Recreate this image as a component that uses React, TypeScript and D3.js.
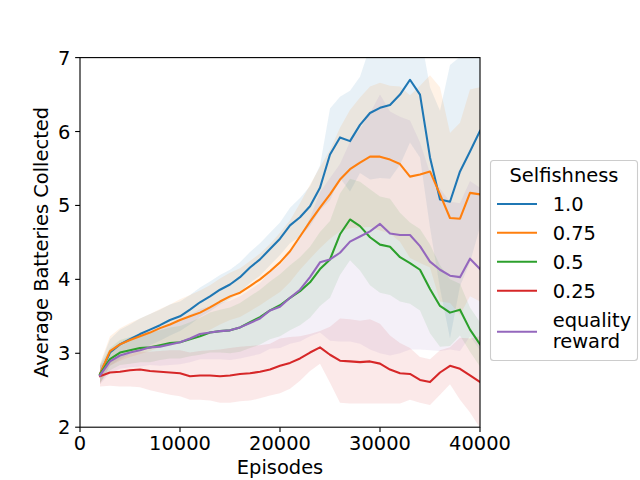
import * as d3 from 'd3'

// episodes sampled every 1000 from 2000 to 40000
const episodes = [
  2000, 3000, 4000, 5000, 6000, 7000, 8000, 9000, 10000, 11000,
  12000, 13000, 14000, 15000, 16000, 17000, 18000, 19000, 20000, 21000,
  22000, 23000, 24000, 25000, 26000, 27000, 28000, 29000, 30000, 31000,
  32000, 33000, 34000, 35000, 36000, 37000, 38000, 39000, 40000,
]

const mean10 = [
  2.72, 3.01, 3.12, 3.19, 3.26, 3.32, 3.38, 3.45, 3.50, 3.59,
  3.69, 3.77, 3.86, 3.93, 4.03, 4.16, 4.27, 4.41, 4.55, 4.73,
  4.84, 4.99, 5.24, 5.69, 5.92, 5.87, 6.09, 6.25, 6.32, 6.36,
  6.50, 6.70, 6.50, 5.65, 5.08, 5.05, 5.46, 5.73, 6.01,
]
const std10 = [
  0.12, 0.18, 0.2, 0.2, 0.21, 0.21, 0.21, 0.21, 0.2, 0.2,
  0.2, 0.2, 0.2, 0.2, 0.2, 0.21, 0.22, 0.22, 0.22, 0.24,
  0.26, 0.27, 0.3, 0.62, 0.55, 0.68, 0.65, 0.9, 0.95, 1.0,
  0.95, 0.85, 0.85, 0.95, 1.2, 1.85, 1.55, 1.5, 1.3,
]

const mean075 = [
  2.72, 3.03, 3.12, 3.18, 3.23, 3.28, 3.34, 3.39, 3.45, 3.50,
  3.55, 3.62, 3.70, 3.77, 3.82, 3.91, 4.00, 4.11, 4.23, 4.38,
  4.58, 4.78, 4.97, 5.15, 5.35, 5.49, 5.58, 5.66, 5.66, 5.62,
  5.56, 5.39, 5.42, 5.46, 5.15, 4.83, 4.82, 5.17, 5.15,
]
const std075 = [
  0.14, 0.2, 0.22, 0.23, 0.24, 0.25, 0.26, 0.27, 0.28, 0.29,
  0.3, 0.3, 0.31, 0.32, 0.33, 0.34, 0.35, 0.37, 0.4, 0.42,
  0.45, 0.5, 0.55, 0.6, 0.7, 0.8, 0.88, 0.95, 1.0, 1.0,
  1.05, 1.1, 1.2, 1.3, 1.45, 1.15, 1.3, 1.4, 1.45,
]

const mean05 = [
  2.72, 2.92, 3.01, 3.04, 3.07, 3.08, 3.11, 3.14, 3.15, 3.19,
  3.23, 3.28, 3.30, 3.31, 3.35, 3.42, 3.49, 3.58, 3.65, 3.75,
  3.84, 3.96, 4.14, 4.27, 4.61, 4.81, 4.72, 4.57, 4.47, 4.44,
  4.30, 4.22, 4.13, 3.87, 3.64, 3.55, 3.59, 3.32, 3.12,
]
const std05 = [
  0.12, 0.15, 0.17, 0.18, 0.19, 0.2, 0.2, 0.21, 0.22, 0.23,
  0.25, 0.27, 0.29, 0.31, 0.33, 0.35, 0.37, 0.39, 0.42, 0.44,
  0.46, 0.48, 0.5, 0.52, 0.55, 0.55, 0.6, 0.65, 0.65, 0.65,
  0.6, 0.55, 0.55, 0.6, 0.55, 0.45, 0.35, 0.3, 0.3,
]

const mean025 = [
  2.69, 2.74, 2.75, 2.77, 2.78, 2.76, 2.75, 2.74, 2.73, 2.69,
  2.70, 2.70, 2.69, 2.70, 2.72, 2.73, 2.75, 2.78, 2.83, 2.87,
  2.93, 3.01, 3.08, 2.98, 2.90, 2.89, 2.88, 2.89, 2.86, 2.78,
  2.73, 2.72, 2.64, 2.61, 2.74, 2.83, 2.79, 2.70, 2.61,
]
const std025 = [
  0.14, 0.18, 0.2, 0.22, 0.24, 0.26, 0.28, 0.3, 0.31, 0.32,
  0.33, 0.34, 0.36, 0.37, 0.37, 0.37, 0.36, 0.35, 0.37, 0.35,
  0.3, 0.25, 0.22, 0.38, 0.57, 0.57, 0.56, 0.57, 0.54, 0.46,
  0.41, 0.35, 0.31, 0.31, 0.3, 0.25, 0.42, 0.5, 0.62,
]

const meanEq = [
  2.70, 2.89, 2.97, 3.01, 3.04, 3.08, 3.09, 3.12, 3.15, 3.20,
  3.26, 3.28, 3.30, 3.31, 3.35, 3.41, 3.47, 3.58, 3.63, 3.75,
  3.86, 4.03, 4.23, 4.27, 4.36, 4.51, 4.58, 4.65, 4.75, 4.62,
  4.60, 4.60, 4.45, 4.24, 4.13, 4.05, 4.03, 4.28, 4.14,
]
const stdEq = [
  0.12, 0.16, 0.18, 0.2, 0.22, 0.24, 0.26, 0.28, 0.3, 0.32,
  0.34, 0.36, 0.38, 0.4, 0.42, 0.45, 0.48, 0.52, 0.56, 0.62,
  0.7, 0.8, 0.95, 1.1, 1.2, 1.35, 1.45, 1.6, 1.75, 1.65,
  1.6, 1.55, 1.4, 1.2, 1.1, 1.0, 1.0, 1.05, 1.1,
]

const labels = [['1.0'], ['0.75'], ['0.5'], ['0.25'], ['equality', 'reward']]
const colors = ['#1f77b4', '#ff7f0e', '#2ca02c', '#d62728', '#9467bd']
const xTicks = [0, 10000, 20000, 30000, 40000]
const yTicks = [2, 3, 4, 5, 6, 7]

const series = [
  { mean: mean10, std: std10 },
  { mean: mean075, std: std075 },
  { mean: mean05, std: std05 },
  { mean: mean025, std: std025 },
  { mean: meanEq, std: stdEq },
]

const W = 640
const H = 480
const left = 80, right = 480, top = 57.6, bottom = 427.2
const font = 'DejaVu Sans'
const fs = 19.44

export default function App() {
  const x = d3.scaleLinear().domain([0, 40000]).range([left, right])
  const y = d3.scaleLinear().domain([2, 7]).range([bottom, top])

  const line = d3.line<number>()
    .x((_, i) => x(episodes[i]))
    .y(d => y(d))

  const band = (s: { mean: number[]; std: number[] }) =>
    d3.area<number>()
      .x((_, i) => x(episodes[i]))
      .y0((d, i) => y(d - s.std[i]))
      .y1((d, i) => y(d + s.std[i]))(s.mean) ?? ''

  const legendRows = [204, 232.7, 261.7, 290.7, 331.7]

  return (
    <svg width={W} height={H} style={{ position: 'fixed', left: 0, top: 0, background: '#fff' }}
      fontFamily={font}>
      <defs>
        <clipPath id="plot">
          <rect x={left} y={top} width={right - left} height={bottom - top} />
        </clipPath>
      </defs>
      <rect width={W} height={H} fill="#fff" />

      <g clipPath="url(#plot)">
        {series.map((s, i) => (
          <path key={'b' + i} d={band(s)} fill={colors[i]} fillOpacity={0.1} stroke="none" />
        ))}
        {series.map((s, i) => (
          <path key={'l' + i} d={line(s.mean) ?? ''} fill="none" stroke={colors[i]}
            strokeWidth={2.08} strokeLinejoin="round" strokeLinecap="square" />
        ))}
      </g>

      {/* spines */}
      <rect x={left} y={top} width={right - left} height={bottom - top}
        fill="none" stroke="#000" strokeWidth={1.11} />

      {xTicks.map(t => (
        <g key={'x' + t}>
          <line x1={x(t)} x2={x(t)} y1={bottom} y2={bottom + 4.86} stroke="#000" strokeWidth={1.11} />
          <text x={x(t)} y={450} textAnchor="middle" fontSize={fs} fill="#000">{t}</text>
        </g>
      ))}
      {yTicks.map(t => (
        <g key={'y' + t}>
          <line x1={left - 4.86} x2={left} y1={y(t)} y2={y(t)} stroke="#000" strokeWidth={1.11} />
          <text x={left - 9.7} y={y(t)} dy="0.36em" textAnchor="end" fontSize={fs} fill="#000">{t}</text>
        </g>
      ))}

      <text x={(left + right) / 2} y={474} textAnchor="middle" fontSize={fs}>Episodes</text>
      <text transform={`translate(48,${(top + bottom) / 2}) rotate(-90)`} textAnchor="middle"
        fontSize={fs}>Average Batteries Collected</text>

      {/* legend */}
      <rect x={490.5} y={160.5} width={147} height={200} rx={3} fill="#fff" fillOpacity={0.8}
        stroke="#cccccc" strokeWidth={1.1} />
      <text x={564} y={182.3} textAnchor="middle" fontSize={fs}>Selfishness</text>
      {labels.map((lab, i) => (
        <g key={'lg' + i}>
          <line x1={497} x2={537} y1={legendRows[i]} y2={legendRows[i]} stroke={colors[i]} strokeWidth={2.08} />
          {lab.length === 1
            ? <text x={552.7} y={legendRows[i]} dy="0.36em" fontSize={fs}>{lab[0]}</text>
            : <text x={552.7} y={326.5} fontSize={fs}>
                <tspan x={552.7} y={326.5}>{lab[0]}</tspan>
                <tspan x={552.7} y={348}>{lab[1]}</tspan>
              </text>}
        </g>
      ))}
    </svg>
  )
}
